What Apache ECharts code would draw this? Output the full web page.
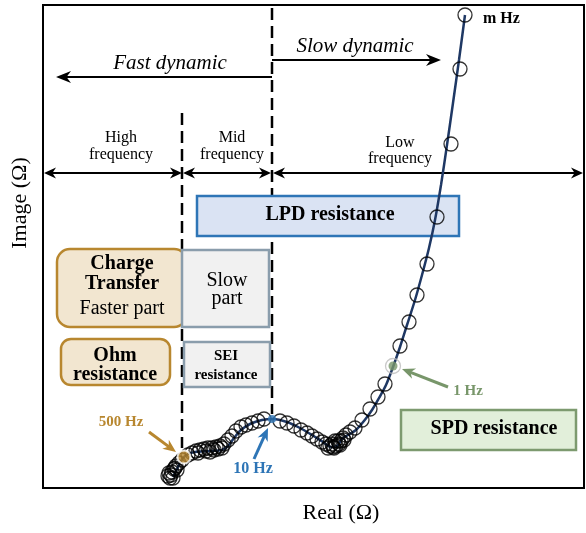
<!DOCTYPE html>
<html>
<head>
<meta charset="utf-8">
<script src="https://cdn.jsdelivr.net/npm/echarts@6/dist/echarts.min.js"></script>
<style>
  html, body { margin: 0; padding: 0; background: #fff; }
  #chart { width: 586px; height: 533px; }
</style>
</head>
<body>
<div id="chart"></div>
<script>
// Nyquist impedance spectrum (schematic units): measured points, fitted curve, key frequencies
const measuredReal = [12.7, 12.8, 12.9, 13.1, 13.3, 13.6, 13.9, 12.5, 13.0, 13.4, 12.6, 13.2, 14.5, 14.9, 15.3, 15.7, 16.1, 16.3, 16.5, 16.9, 17.1, 17.3, 17.7, 17.9, 18.1, 15.5, 16.7, 17.5, 18.5, 18.9, 19.3, 19.8, 20.3, 20.9, 21.5, 22.1, 23.7, 24.4, 25.1, 25.8, 26.4, 26.9, 27.4, 27.9, 28.3, 28.7, 29.0, 29.3, 29.6, 29.8, 30.0, 30.3, 28.9, 29.2, 29.5, 29.1, 28.5, 29.7, 30.1, 30.7, 31.2, 31.9, 32.7, 33.5, 34.2, 35.7, 36.6, 37.4, 38.4, 39.4, 40.8, 41.7, 42.2];
const measuredImag = [1.0, 1.3, 1.6, 1.9, 2.2, 2.5, 2.8, 1.2, 1.0, 1.8, 1.5, 2.0, 3.3, 3.5, 3.7, 3.8, 3.9, 3.7, 4.0, 4.0, 3.8, 4.1, 4.2, 4.0, 4.4, 3.5, 3.6, 3.9, 4.8, 5.2, 5.7, 6.1, 6.3, 6.5, 6.7, 6.9, 6.7, 6.5, 6.2, 5.8, 5.5, 5.2, 4.9, 4.6, 4.4, 4.2, 4.1, 4.2, 4.4, 4.7, 5.0, 5.3, 4.4, 4.7, 4.7, 4.0, 4.0, 4.3, 4.8, 5.6, 6.0, 6.8, 7.9, 9.1, 10.4, 14.2, 16.6, 19.3, 22.4, 27.1, 34.4, 41.9, 47.3];

const fitReal = [13.0, 13.5, 14.0, 14.5, 15.2, 16.7, 17.9, 18.5, 19.1, 19.8, 20.7, 21.9, 23.0, 24.4, 25.7, 26.9, 28.0, 28.8, 29.4, 29.9, 30.5, 31.3, 32.1, 32.9, 33.6, 34.3, 35.0, 35.7, 36.4, 37.2, 37.9, 38.6, 39.2, 39.8, 40.4, 41.0, 41.6, 42.2];
const fitImag = [1.1, 2.1, 3.0, 3.4, 3.6, 3.7, 3.8, 4.2, 5.0, 5.8, 6.4, 6.8, 6.9, 6.6, 6.0, 5.3, 4.6, 4.1, 4.2, 4.9, 5.3, 5.8, 6.7, 7.8, 9.0, 10.3, 12.1, 14.1, 16.3, 18.8, 21.3, 24.0, 26.8, 30.3, 34.3, 38.5, 42.8, 47.3];

const keyFreqLabels = ['500 Hz', '10 Hz', '1 Hz'];
const keyReal = [14.1, 22.9, 35.0];
const keyImag = [3.1, 6.9, 12.2];

const pairs = (xs, ys) => xs.map((x, i) => [x, ys[i]]);

const SERIF = '"Liberation Serif", "Times New Roman", serif';
const GOLD = '#b8872f';
const BLUE = '#2e75b6';
const GREEN = '#78966a';
const NAVY = '#1f3864';

// arrow: shaft plus stealth-style head at (x2, y2)
function arrowHead(x1, y1, x2, y2, color, hl, hw, z) {
  const dx = x2 - x1, dy = y2 - y1, L = Math.hypot(dx, dy);
  const ux = dx / L, uy = dy / L, px = -uy, py = ux;
  const bx = x2 - ux * hl, by = y2 - uy * hl;
  const nx = x2 - ux * hl * 0.7, ny = y2 - uy * hl * 0.7;
  return {
    type: 'polygon', z: z,
    shape: { points: [[x2, y2], [bx + px * hw / 2, by + py * hw / 2], [nx, ny], [bx - px * hw / 2, by - py * hw / 2]] },
    style: { fill: color }
  };
}
function arrow(x1, y1, x2, y2, color, w, hl, hw, z) {
  const dx = x2 - x1, dy = y2 - y1, L = Math.hypot(dx, dy);
  const ux = dx / L, uy = dy / L;
  return [
    { type: 'line', z: z, shape: { x1: x1, y1: y1, x2: x2 - ux * hl * 0.6, y2: y2 - uy * hl * 0.6 }, style: { stroke: color, lineWidth: w } },
    arrowHead(x1, y1, x2, y2, color, hl, hw, z)
  ];
}
function doubleArrow(x1, x2, y, z) {
  return [
    { type: 'line', z: z, shape: { x1: x1 + 6, y1: y, x2: x2 - 6, y2: y }, style: { stroke: '#000', lineWidth: 2 } },
    arrowHead(x2, y, x1, y, '#000', 12, 11, z),
    arrowHead(x1, y, x2, y, '#000', 12, 11, z)
  ];
}
function txt(x, y, text, font, fill, align, extra) {
  return Object.assign({
    type: 'text', x: x, y: y, z: 5,
    style: { text: text, font: font, fill: fill || '#000', textAlign: align || 'center', textVerticalAlign: 'middle' }
  }, extra || {});
}
function box(x, y, w, h, fill, stroke, r) {
  return { type: 'rect', z: 3, shape: { x: x, y: y, width: w, height: h, r: r || 0 }, style: { fill: fill, stroke: stroke, lineWidth: 2.5 } };
}
function dashed(x, y1, y2) {
  return { type: 'line', z: 1, shape: { x1: x, y1: y1, x2: x, y2: y2 }, style: { stroke: '#000', lineWidth: 2.5, lineDash: [12, 6] } };
}

const graphics = [].concat(
  [dashed(272, 8, 414), dashed(182, 113, 448)],
  arrow(272, 77, 56, 77, '#000', 2.2, 15, 12, 4),
  arrow(272, 60, 441, 60, '#000', 2.2, 15, 12, 4),
  doubleArrow(44, 182, 173, 4),
  doubleArrow(183, 271, 173, 4),
  doubleArrow(273, 583, 173, 4),
  [
    txt(170, 63, 'Fast dynamic', 'italic 21px ' + SERIF),
    txt(355, 46, 'Slow dynamic', 'italic 21px ' + SERIF),
    txt(121, 138, 'High', '16px ' + SERIF),
    txt(121, 155, 'frequency', '16px ' + SERIF),
    txt(232, 138, 'Mid', '16px ' + SERIF),
    txt(232, 155, 'frequency', '16px ' + SERIF),
    txt(400, 143, 'Low', '16px ' + SERIF),
    txt(400, 159, 'frequency', '16px ' + SERIF),

    box(197, 196, 262, 40, '#dae3f3', BLUE, 0),
    txt(330, 215, 'LPD resistance', 'bold 20px ' + SERIF),

    box(57, 249, 130, 78, '#f2e6d0', GOLD, 13),
    box(182, 250, 87, 77, '#f1f1f1', '#8a9dac', 0),
    txt(122, 264, 'Charge', 'bold 20px ' + SERIF),
    txt(122, 284, 'Transfer', 'bold 20px ' + SERIF),
    txt(122, 309, 'Faster part', '20px ' + SERIF),
    txt(227, 281, 'Slow', '20px ' + SERIF),
    txt(227, 299, 'part', '20px ' + SERIF),

    box(61, 339, 109, 46, '#f2e6d0', GOLD, 10),
    txt(115, 356, 'Ohm', 'bold 20px ' + SERIF),
    txt(115, 375, 'resistance', 'bold 20px ' + SERIF),

    box(184, 342, 86, 45, '#f1f1f1', '#8a9dac', 0),
    txt(226, 356, 'SEI', 'bold 15px ' + SERIF),
    txt(226, 375, 'resistance', 'bold 15px ' + SERIF),

    box(401, 410, 175, 40, '#e2efda', '#7d9a6f', 0),
    txt(494, 429, 'SPD resistance', 'bold 20px ' + SERIF),

    txt(483, 19, 'm Hz', 'bold 16px ' + SERIF, '#000', 'left'),
    txt(468, 391, keyFreqLabels[2], 'bold 15px ' + SERIF, GREEN),
    txt(253, 469, keyFreqLabels[1], 'bold 16px ' + SERIF, BLUE),
    txt(121, 422, keyFreqLabels[0], 'bold 15px ' + SERIF, GOLD),

    txt(341, 513, 'Real (Ω)', '22px ' + SERIF),
    txt(20, 203, 'Image (Ω)', '22px ' + SERIF, '#000', 'center', { rotation: Math.PI / 2 })
  ],
  arrow(448, 387, 402, 369, GREEN, 3, 13, 11, 20),
  arrow(254, 459, 268, 428, BLUE, 3, 13, 11, 20),
  arrow(149, 432, 176, 452, GOLD, 3, 13, 11, 20)
);

const chart = echarts.init(document.getElementById('chart'), null, { renderer: 'canvas' });
chart.setOption({
  animation: false,
  backgroundColor: '#fff',
  grid: { left: 43, top: 5, right: 2, bottom: 45, show: true, borderColor: '#000', borderWidth: 2, backgroundColor: 'transparent' },
  xAxis: { type: 'value', min: 0, max: 54.1, axisLine: { show: false }, axisTick: { show: false }, axisLabel: { show: false }, splitLine: { show: false } },
  yAxis: { type: 'value', min: 0, max: 48.3, axisLine: { show: false }, axisTick: { show: false }, axisLabel: { show: false }, splitLine: { show: false } },
  graphic: { elements: graphics },
  series: [
    {
      type: 'line', z: 10, data: pairs(fitReal, fitImag), smooth: 0.3, showSymbol: false,
      lineStyle: { color: NAVY, width: 2.5 }
    },
    {
      type: 'scatter', z: 11, data: pairs(measuredReal, measuredImag), symbol: 'circle', symbolSize: 14,
      itemStyle: { color: 'rgba(0,0,0,0)', borderColor: '#000', borderWidth: 1.3 }
    },
    {
      type: 'scatter', z: 12, symbol: 'circle',
      data: [
        { value: [keyReal[0], keyImag[0]], symbolSize: 13, itemStyle: { color: GOLD, borderColor: '#fff', borderWidth: 2 } },
        { value: [keyReal[1], keyImag[1]], symbolSize: 8, itemStyle: { color: BLUE, borderWidth: 0 } },
        { value: [keyReal[2], keyImag[2]], symbolSize: 15, itemStyle: { color: 'rgba(0,0,0,0)', borderColor: '#bbbbbb', borderWidth: 1.3 } },
        { value: [keyReal[2], keyImag[2]], symbolSize: 9, itemStyle: { color: GREEN, borderWidth: 0 } }
      ]
    }
  ]
});
</script>
</body>
</html>
